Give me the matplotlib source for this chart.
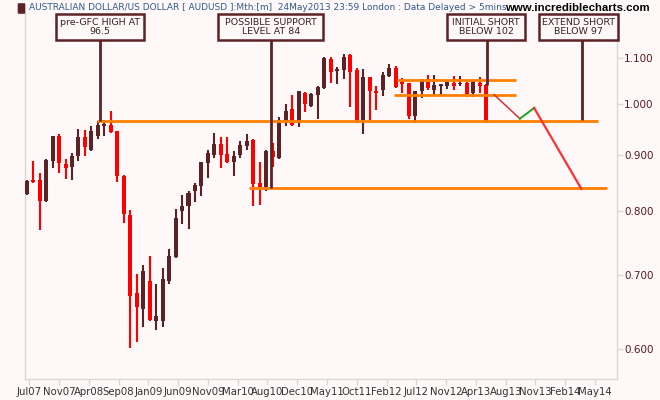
import numpy as np
import matplotlib
matplotlib.use("Agg")
import matplotlib.pyplot as plt
from matplotlib.patches import Rectangle, FancyBboxPatch
from matplotlib.ticker import FixedLocator, NullLocator

plt.rcParams['font.family'] = ['DejaVu Sans']

# 月线 K 线数据 (Jun07 .. May13)，读自原图
opens = [0.829, 0.854, 0.854, 0.818, 0.889, 0.935, 0.883, 0.878, 0.897, 0.934,
         0.908, 0.935, 0.956, 0.958, 0.945, 0.860, 0.794, 0.674, 0.652, 0.692,
         0.636, 0.636, 0.692, 0.727, 0.801, 0.808, 0.835, 0.844, 0.885, 0.900,
         0.921, 0.902, 0.887, 0.900, 0.917, 0.927, 0.848, 0.842, 0.907, 0.894,
         0.964, 0.990, 0.961, 1.024, 0.996, 1.020, 1.035, 1.099, 1.072, 1.073,
         1.107, 1.073, 0.968, 1.058, 1.028, 1.030, 1.061, 1.079, 1.048, 1.045,
         0.975, 1.027, 1.053, 1.030, 1.039, 1.039, 1.046, 1.043, 1.046, 1.023,
         1.046, 1.041]
highs = [0.854, 0.889, 0.866, 0.891, 0.936, 0.940, 0.892, 0.903, 0.950, 0.948,
         0.956, 0.966, 0.968, 0.986, 0.946, 0.862, 0.802, 0.702, 0.715, 0.728,
         0.687, 0.710, 0.740, 0.804, 0.828, 0.835, 0.849, 0.887, 0.909, 0.941,
         0.934, 0.934, 0.907, 0.926, 0.939, 0.930, 0.886, 0.908, 0.922, 0.973,
         1.001, 1.020, 1.028, 1.025, 1.023, 1.039, 1.102, 1.103, 1.081, 1.110,
         1.110, 1.078, 1.076, 1.059, 1.039, 1.070, 1.088, 1.083, 1.056, 1.046,
         1.028, 1.054, 1.063, 1.063, 1.043, 1.050, 1.061, 1.061, 1.047, 1.052,
         1.059, 1.042]
lows = [0.828, 0.848, 0.769, 0.815, 0.876, 0.867, 0.856, 0.853, 0.889, 0.897,
        0.907, 0.930, 0.935, 0.942, 0.851, 0.781, 0.602, 0.609, 0.629, 0.636,
        0.625, 0.629, 0.687, 0.726, 0.779, 0.771, 0.816, 0.825, 0.858, 0.894,
        0.875, 0.885, 0.860, 0.894, 0.909, 0.808, 0.810, 0.834, 0.878, 0.892,
        0.956, 0.956, 0.954, 0.983, 0.995, 0.970, 1.032, 1.046, 1.043, 1.054,
        0.995, 0.962, 0.940, 0.968, 0.987, 1.016, 1.058, 1.034, 1.023, 0.969,
        0.961, 1.013, 1.030, 1.016, 1.016, 1.032, 1.030, 1.039, 1.015, 1.015,
        1.023, 0.961]
closes = [0.852, 0.850, 0.818, 0.890, 0.935, 0.885, 0.876, 0.898, 0.934, 0.915,
          0.946, 0.958, 0.960, 0.943, 0.860, 0.795, 0.670, 0.655, 0.707, 0.638,
          0.643, 0.694, 0.729, 0.789, 0.809, 0.831, 0.845, 0.886, 0.904, 0.921,
          0.900, 0.886, 0.898, 0.919, 0.926, 0.847, 0.842, 0.907, 0.895, 0.968,
          0.985, 0.958, 1.027, 1.000, 1.022, 1.037, 1.101, 1.070, 1.076, 1.104,
          1.070, 0.968, 1.059, 1.027, 1.023, 1.063, 1.079, 1.036, 1.043, 0.975,
          1.028, 1.053, 1.034, 1.041, 1.043, 1.048, 1.039, 1.046, 1.016, 1.052,
          1.039, 0.964]

# x 轴刻度标签
tick_labels = ['Jul07', 'Nov07', 'Apr08', 'Sep08', 'Jan09', 'Jun09', 'Nov09',
               'Mar10', 'Aug10', 'Dec10', 'May11', 'Oct11', 'Feb12', 'Jul12',
               'Nov12', 'Apr13', 'Aug13', 'Nov13', 'Feb14', 'May14']
tick_pos = [0.4 + 4.6 * k for k in range(len(tick_labels))]

# 水平支撑/阻力线: (价位, 起点, 终点)
level_vals = [0.965, 0.84, 1.052, 1.02]
level_start = [10.8, 34.3, 57.2, 56.8]
level_end = [88.2, 89.7, 75.6, 75.6]

# 预测路径
path_x = [72.2, 76.2, 78.4, 85.7]
path_y = [1.02, 0.970, 0.992, 0.838]

# 注释框
note_texts = ['pre-GFC HIGH AT\n96.5', 'POSSIBLE SUPPORT\nLEVEL AT 84',
              'INITIAL SHORT\nBELOW 102', 'EXTEND SHORT\nBELOW 97']
note_left = [4.48, 29.6, 65.0, 79.2]
note_right = [18.2, 45.8, 77.0, 91.4]
note_x = [11.33, 37.7, 71.1, 85.8]
note_end = [0.966, 0.84, 1.041, 0.967]

bg = '#fff8f8'
dark = '#5c2326'
red = '#ff0000'
orange = '#ff8000'

fig = plt.figure(figsize=(6.6, 4.0), dpi=100, facecolor=bg)
ax = fig.add_axes([25 / 660, 21 / 400, 592 / 660, 366 / 400])
ax.set_facecolor(bg)
ax.set_yscale('log')
ax.set_ylim(0.564, 1.209)
ax.set_xlim(-0.26, 91.2)

x = np.arange(len(opens))
o = np.array(opens)
c = np.array(closes)
h = np.array(highs)
l = np.array(lows)
up = c >= o
cols = [dark if u else red for u in up]

ax.vlines(x, l, h, colors=cols, linewidth=1.5, zorder=3)
body_lo = np.minimum(o, c)
body_hi = np.maximum(o, c)
ax.bar(x, body_hi - body_lo, bottom=body_lo, width=0.62, color=cols,
       edgecolor='none', zorder=4)

for v, s, e in zip(level_vals, level_start, level_end):
    ax.plot([s, e], [v, v], color=orange, linewidth=2.0, zorder=5,
            solid_capstyle='butt')

ax.plot(path_x[0:2], path_y[0:2], color='#e02020', linewidth=1.0, zorder=6)
ax.plot(path_x[1:3], path_y[1:3], color='#22a022', linewidth=1.4, zorder=6)
ax.plot(path_x[2:4], path_y[2:4], color='#ff3030', linewidth=1.6, zorder=6)

box_top = 1.207
box_bot = 1.143
for t, bl, br, nx, ne in zip(note_texts, note_left, note_right, note_x, note_end):
    ax.plot([nx, nx], [box_bot, ne], color=dark, linewidth=2.0, zorder=7,
            clip_on=False, solid_capstyle='butt')
    ax.add_patch(Rectangle((bl, box_bot), br - bl, box_top - box_bot,
                           facecolor=bg, edgecolor=dark, linewidth=1.8,
                           zorder=8, clip_on=False))
    ax.text((bl + br) / 2, np.sqrt(box_top * box_bot), t, ha='center',
            va='center', fontsize=6.8, color='#3a2222', linespacing=1.1,
            zorder=9, clip_on=False)

# 坐标轴
ax.spines['top'].set_visible(False)
for side in ['left', 'bottom', 'right']:
    ax.spines[side].set_color('#dcd6d6')
    ax.spines[side].set_linewidth(1.0)

ax.yaxis.set_major_locator(FixedLocator([0.6, 0.7, 0.8, 0.9, 1.0, 1.1]))
ax.yaxis.set_minor_locator(NullLocator())
ax.set_yticklabels(['0.600', '0.700', '0.800', '0.900', '1.000', '1.100'])
ax.yaxis.tick_right()
ax.tick_params(axis='y', which='major', length=4, width=1, color='#dcd6d6',
               labelsize=7.5, labelcolor='#5a1a1a', pad=1)

ax.set_xticks(tick_pos)
ax.set_xticklabels(tick_labels)
ax.tick_params(axis='x', length=4, width=1, color='#dcd6d6', labelsize=7.3,
               labelcolor='#333333', pad=2)

# 标题
fig.patches.append(FancyBboxPatch((19 / 660, 387 / 400), 5 / 660, 9 / 400,
                                  boxstyle='round,pad=0.002', facecolor=dark,
                                  edgecolor='none', transform=fig.transFigure))
fig.text(29 / 660, 393 / 400,
         'AUSTRALIAN DOLLAR/US DOLLAR [ AUDUSD ]:Mth:[m]  24May2013 23:59 London : Data Delayed > 5mins',
         fontsize=6.5, color='#2f5a8c', ha='left', va='center')
fig.text(650 / 660, 392 / 400, 'www.incrediblecharts.com', fontsize=8.2,
         fontweight='bold', color='black', ha='right', va='center',
         family=['Liberation Sans', 'DejaVu Sans'])

fig.savefig('out.png', dpi=100, facecolor=bg)
